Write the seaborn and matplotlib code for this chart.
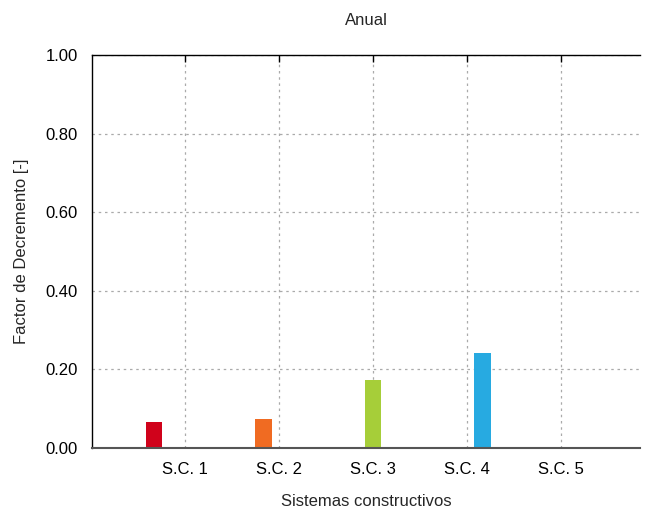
import numpy as np
import pandas as pd
import matplotlib
matplotlib.use('Agg')
import matplotlib.pyplot as plt
import seaborn as sns

# datos
sistemas = ['S.C. 1', 'S.C. 2', 'S.C. 3', 'S.C. 4', 'S.C. 5']
factor_decremento = [0.066, 0.074, 0.173, 0.241, 0.0]
colores = ['#d0021b', '#f06b22', '#a6ce39', '#27aae1', '#8e44ad']

sns.set_style('white')
plt.rcParams['font.family'] = ['Liberation Sans', 'DejaVu Sans']

df = pd.DataFrame({'sistema': sistemas, 'fd': factor_decremento})

fig = plt.figure(figsize=(6.45, 5.09), dpi=100)
ax = fig.add_axes([0.1426, 0.1198, 0.8494, 0.7716])

sns.barplot(data=df, x='sistema', y='fd', hue='sistema', palette=colores,
            dodge=True, width=0.825, legend=False, saturation=1, ax=ax)

# barras algo mas anchas que el hueco
for p in ax.patches:
    c = p.get_x() + p.get_width() / 2
    p.set_width(0.178)
    p.set_x(c - 0.089)
    p.set_edgecolor('none')

ax.set_xlim(-0.99, 4.84)
ax.set_ylim(0, 1.0)
ax.set_yticks(np.arange(0, 1.01, 0.2))
ax.set_yticklabels([f'{v:.2f}' for v in np.arange(0, 1.01, 0.2)])

ax.grid(True, linestyle=(0, (2, 3)), color='#aaaaaa', linewidth=0.9)
ax.set_axisbelow(True)

ax.spines['right'].set_visible(False)
for s in ['left', 'top']:
    ax.spines[s].set_color('black')
    ax.spines[s].set_linewidth(1.0)
ax.spines['bottom'].set_color('#555555')
ax.spines['bottom'].set_linewidth(1.5)

ax.tick_params(axis='both', direction='in', length=5, width=1, colors='black',
               labelsize=12, top=True)
ax.tick_params(axis='x', pad=10)
ax.tick_params(axis='y', pad=10)

ax.set_title('Anual', fontsize=12, pad=22)
ax.set_xlabel('Sistemas constructivos', fontsize=12, labelpad=12)
ax.set_ylabel('Factor de Decremento [-]', fontsize=12, labelpad=12)

fig.savefig('out.png', dpi=100)
